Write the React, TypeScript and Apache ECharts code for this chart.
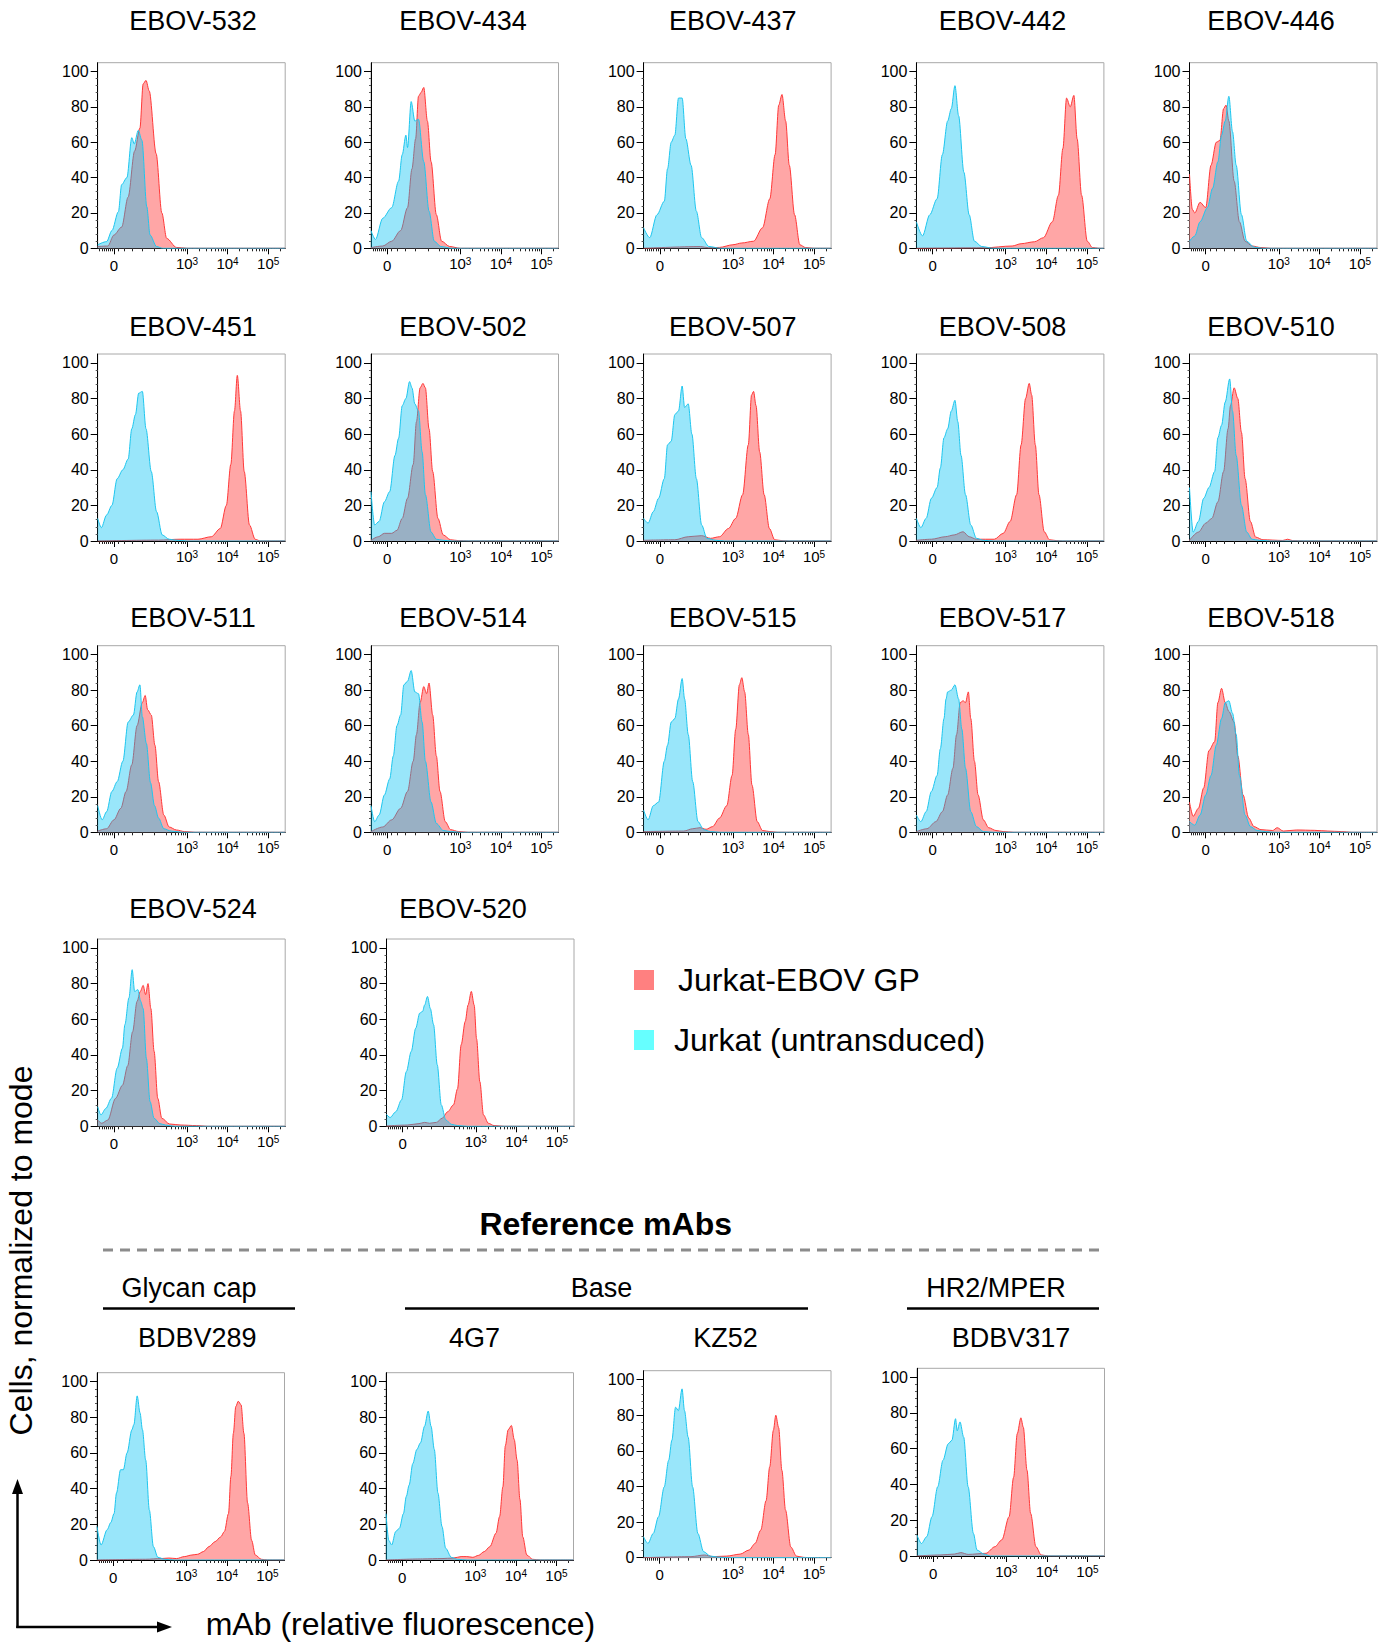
import React, { useEffect, useRef } from 'react';
import * as echarts from 'echarts';

const FONT = '"Liberation Sans", Arial, Helvetica, sans-serif';

const RED_LINE = '#ff3838';
const RED_FILL = '#ffa6a6';
const BLUE_LINE = '#1ec6ee';
// translucent overlay, so overlapping regions turn blue-grey as in the cytometry overlay
const BLUE_FILL = 'rgba(0,192,242,0.4)';

// x is in display units of the biexponential axis: 10^3 -> 3, 10^4 -> 4, 10^5 -> 5, "0" -> 1.2
const X_MIN = 0.8;
const X_MAX = 5.42;
const Y_MAX = 105;
const xMajorTicks = [1.2, 3, 4, 5];
const xMinorTicks = [0.85, 0.9, 0.95, 1.0, 1.05, 1.1, 1.15, 1.3, 1.45, 1.65, 1.9, 2.2, 2.48, 2.6, 2.7, 2.78, 2.85, 2.9, 2.95,
  3.3, 3.48, 3.6, 3.7, 3.78, 3.85, 3.9, 3.95, 4.3, 4.48, 4.6, 4.7, 4.78, 4.85, 4.9, 4.95, 5.3];
const yMajorTicks = [0, 20, 40, 60, 80, 100];
const yMinorTicks = [4, 8, 12, 16, 24, 28, 32, 36, 44, 48, 52, 56, 64, 68, 72, 76, 84, 88, 92, 96];

// ---- histogram data: [x (display units), % of mode] ----
const r532 = [[0.8,1],[1.05,1.3],[1.2,7.5],[1.39,12],[1.55,29],[1.71,55],[1.84,68],[1.92,93],[1.99,95],[2.07,89],[2.24,53.5],[2.38,20],[2.5,5.6],[2.74,0.5],[3.0,0],[5.42,0]];
const b532 = [[0.8,2],[1.02,3.8],[1.15,10],[1.31,20.7],[1.39,36],[1.52,40],[1.64,62.6],[1.70,59],[1.80,66.7],[1.89,61],[2.01,23.5],[2.09,7.5],[2.25,1],[2.4,0],[5.42,0]];
const r434 = [[0.8,0.4],[1.09,1.3],[1.31,4],[1.53,10],[1.70,23],[1.81,45],[1.90,62],[1.97,86],[2.03,88],[2.10,91],[2.19,72],[2.28,49],[2.41,19],[2.54,4],[2.74,1],[3.0,0],[5.42,0]];
const b434 = [[0.8,10],[0.91,5],[1.09,17],[1.31,23],[1.48,38],[1.57,53],[1.66,64],[1.70,57],[1.79,83],[1.88,72],[1.97,73],[2.10,49],[2.23,21],[2.36,4],[2.52,1],[2.8,0],[5.42,0]];
const r437 = [[0.8,0],[2.2,1],[2.4,0.3],[2.67,0.5],[3.0,2],[3.22,3],[3.51,4],[3.73,11.6],[3.91,28],[4.04,53],[4.13,81],[4.21,87],[4.30,72],[4.39,47],[4.52,19],[4.65,2],[4.79,0.4],[5.0,0],[5.42,0]];
const b437 = [[0.8,11.6],[0.95,6],[1.13,19],[1.31,26.6],[1.39,45],[1.48,60],[1.57,64],[1.66,85],[1.75,85],[1.84,62],[1.97,47],[2.10,21],[2.23,6],[2.41,1],[2.7,0],[5.42,0]];
const r442 = [[0.8,0],[2.5,0.3],[3.16,1.3],[3.38,2.6],[3.71,3.7],[3.93,6],[4.15,15],[4.30,30],[4.41,56.5],[4.50,85],[4.59,80],[4.68,86.5],[4.76,62],[4.87,30],[5.01,4],[5.14,0.4],[5.3,0],[5.42,0]];
const b442 = [[0.8,15],[0.95,7],[1.13,19],[1.31,28],[1.44,53],[1.57,72],[1.66,79],[1.75,92],[1.84,75],[1.97,43],[2.10,19],[2.23,4],[2.41,1],[2.7,0],[5.42,0]];
const r446 = [[0.8,42],[0.87,22],[0.93,20],[1.06,26],[1.20,23],[1.33,47],[1.46,60],[1.55,61],[1.64,79],[1.70,81],[1.77,72],[1.90,38],[2.03,15],[2.17,4],[2.34,1.3],[2.56,0.4],[2.8,0],[5.42,0]];
const b446 = [[0.8,4],[0.93,7],[1.06,15],[1.24,23],[1.37,34],[1.50,49],[1.59,64],[1.68,72],[1.77,86],[1.86,66],[1.95,47],[2.08,19],[2.21,4],[2.39,0.7],[2.6,0],[5.42,0]];

const r451 = [[0.8,0],[2.3,0.5],[2.83,1],[3.27,1],[3.60,2.4],[3.82,7],[3.97,20],[4.08,43],[4.17,73],[4.24,93],[4.32,73],[4.41,39],[4.54,9],[4.68,1],[4.81,0],[5.42,0]];
const b451 = [[0.8,12.7],[0.89,7.5],[1.02,14.6],[1.15,20],[1.28,35],[1.42,40],[1.55,46],[1.64,63],[1.73,71],[1.81,83],[1.90,84],[1.99,63],[2.12,39],[2.25,16.5],[2.39,3.4],[2.56,1],[2.72,0.5],[3.0,0],[5.42,0]];
const r502 = [[0.8,0.4],[0.98,2.4],[1.13,4.3],[1.31,4.3],[1.44,6],[1.57,12.7],[1.70,24],[1.84,43],[1.92,67],[2.01,86],[2.08,88.5],[2.14,86],[2.23,63],[2.32,39],[2.45,12.7],[2.58,3.4],[2.76,0.7],[2.96,0.2],[3.2,0],[5.42,0]];
const b502 = [[0.8,27.7],[0.89,9],[1.0,11],[1.13,22],[1.26,27.7],[1.39,48],[1.48,57.7],[1.57,76],[1.66,80],[1.75,89.5],[1.81,86],[1.88,77],[1.97,73],[2.06,50],[2.14,26],[2.28,5],[2.41,1],[2.58,0.4],[2.8,0],[5.42,0]];
const r507 = [[0.8,0.4],[1.57,0.7],[1.90,2.4],[2.23,3],[2.45,1.5],[2.67,2.4],[2.89,7],[3.07,12.7],[3.24,26],[3.38,54],[3.46,82],[3.51,84],[3.57,76],[3.66,50],[3.77,26],[3.90,7],[4.03,0.7],[4.21,0.2],[4.4,0],[5.42,0]];
const b507 = [[0.8,12.7],[0.91,10],[1.04,16.5],[1.17,24],[1.31,35],[1.39,54],[1.48,56],[1.57,71],[1.66,73],[1.75,87],[1.81,75],[1.90,77],[1.99,60],[2.10,35],[2.23,9],[2.36,1.5],[2.58,0.4],[2.8,0],[5.42,0]];
const r508 = [[0.8,0.4],[1.17,1],[1.51,2.4],[1.73,3.4],[1.95,5.2],[2.10,2.4],[2.28,1],[2.72,1],[2.94,4.3],[3.11,11],[3.27,26],[3.38,54],[3.49,80],[3.58,88.5],[3.64,82],[3.73,54],[3.82,26],[3.95,5.2],[4.08,0.7],[4.26,0.2],[4.4,0],[5.42,0]];
const b508 = [[0.8,12.7],[0.91,7.5],[1.04,12.7],[1.17,24],[1.31,30],[1.39,41],[1.48,58],[1.57,63],[1.66,73],[1.75,79],[1.82,67],[1.90,48],[2.01,26],[2.14,9],[2.28,1.5],[2.45,0.4],[2.7,0],[5.42,0]];
const r510 = [[0.8,0.4],[1.02,5],[1.20,10],[1.35,12.7],[1.50,22],[1.64,39],[1.75,63],[1.81,76],[1.90,86],[1.99,80],[2.08,61],[2.17,35],[2.30,11],[2.43,2.2],[2.61,0.7],[3.1,0.3],[3.22,1],[3.34,0.2],[3.6,0],[5.42,0]];
const b510 = [[0.8,30],[0.89,5],[1.02,11],[1.15,24],[1.28,30],[1.42,39],[1.50,58],[1.59,65],[1.68,78],[1.79,91],[1.86,73],[1.95,48],[2.08,20],[2.21,5],[2.34,1],[2.52,0.4],[2.8,0],[5.42,0]];

const r511 = [[0.8,0.7],[1.02,2],[1.20,7],[1.37,13.5],[1.50,23],[1.64,38],[1.77,60],[1.90,73],[1.97,77],[2.03,69],[2.12,66],[2.21,49],[2.30,28.5],[2.43,9.7],[2.56,3],[2.74,1.3],[2.94,0.4],[3.2,0],[5.42,0]];
const b511 = [[0.8,15],[0.91,7],[1.02,11.6],[1.15,23],[1.28,28.5],[1.42,40],[1.55,62],[1.68,66],[1.77,79],[1.84,83],[1.90,65],[2.0,50],[2.1,28],[2.2,15],[2.30,8],[2.43,2],[2.61,0.7],[2.9,0],[5.42,0]];
const r514 = [[0.8,0.4],[1.09,3],[1.31,7],[1.53,13.5],[1.70,23],[1.84,40],[1.92,55],[2.01,73],[2.10,82],[2.17,78],[2.23,84],[2.32,66],[2.41,43],[2.50,23],[2.63,6],[2.76,1.5],[2.96,0.4],[3.2,0],[5.42,0]];
const b514 = [[0.8,15],[0.89,6],[1.0,9.7],[1.13,21],[1.26,30],[1.35,43],[1.44,60],[1.53,66],[1.61,83],[1.70,85],[1.79,91],[1.88,79],[1.97,78],[2.06,62],[2.14,40],[2.28,17],[2.41,5],[2.58,1],[2.76,0.4],[3.0,0],[5.42,0]];
const r515 = [[0.8,0.4],[1.79,0.7],[2.01,2],[2.19,2.6],[2.34,1.7],[2.50,3.2],[2.67,8],[2.85,15],[2.98,32],[3.07,58],[3.16,83],[3.22,87],[3.29,79],[3.38,55],[3.47,26.6],[3.60,6],[3.73,1],[3.91,0.4],[4.1,0],[5.42,0]];
const b515 = [[0.8,12.5],[0.91,7],[1.04,15],[1.17,17],[1.31,40],[1.39,49],[1.48,62],[1.57,64],[1.66,75],[1.75,86.5],[1.81,75],[1.90,55],[2.01,28.5],[2.14,6],[2.28,1.5],[2.45,0.4],[2.7,0],[5.42,0]];
const r517 = [[0.8,0.4],[1.06,2],[1.28,6],[1.44,11.6],[1.57,21],[1.70,36],[1.79,55],[1.88,73],[1.95,74],[2.01,73],[2.08,79],[2.14,64],[2.23,40],[2.32,21],[2.45,7],[2.58,2.6],[2.76,1],[2.94,0.4],[3.2,0],[5.42,0]];
const b517 = [[0.8,9.7],[0.91,6],[1.04,11.6],[1.17,23],[1.31,32],[1.39,47],[1.48,64],[1.53,75],[1.57,79],[1.66,80],[1.75,83],[1.84,75],[1.92,58],[2.01,36],[2.14,11.6],[2.28,3.2],[2.45,0.4],[2.7,0],[5.42,0]];
const r518 = [[0.8,17],[0.89,9],[1.02,13.5],[1.15,25],[1.28,46],[1.42,51],[1.50,73],[1.59,81],[1.68,73],[1.77,68],[1.90,62],[1.99,43],[2.12,21],[2.26,8],[2.39,3.2],[2.56,1.5],[2.85,1],[2.96,2.6],[3.11,0.7],[3.44,1.3],[3.88,1.1],[4.21,0.7],[4.54,0.4],[4.8,0],[5.42,0]];
const b518 = [[0.8,6],[0.93,4],[1.06,9.7],[1.20,21],[1.33,32],[1.46,49],[1.59,64],[1.68,73],[1.77,74],[1.86,67],[1.95,55],[2.03,32],[2.17,9.7],[2.30,3.2],[2.47,1],[2.67,0.4],[2.9,0],[5.42,0]];

const r524 = [[0.8,3.5],[0.90,1.7],[1.05,3.5],[1.24,15.7],[1.41,23],[1.54,34],[1.66,53],[1.77,70],[1.85,75.6],[1.92,79],[1.98,73.8],[2.04,80],[2.11,66],[2.19,42],[2.28,15.7],[2.38,4.5],[2.57,1.3],[2.85,0.7],[3.23,0.4],[3.5,0],[5.42,0]];
const b524 = [[0.8,11],[0.88,6.4],[1.0,10],[1.14,15.7],[1.28,32.6],[1.41,43.8],[1.47,57],[1.57,72],[1.65,87.8],[1.71,75.6],[1.79,76.6],[1.86,70],[1.92,66],[2.0,38],[2.09,13.9],[2.19,4.5],[2.33,1.5],[2.47,0.7],[2.7,0],[5.42,0]];
const r520 = [[0.8,0.2],[1.31,0.7],[1.60,1.5],[1.74,2.2],[1.86,1.7],[2.03,2.2],[2.17,4.5],[2.31,8.2],[2.45,12],[2.55,21],[2.64,45.7],[2.74,58.8],[2.81,68],[2.89,75.6],[2.96,68],[3.02,49],[3.10,25],[3.19,6.4],[3.31,1.7],[3.45,0.4],[3.7,0],[5.42,0]];
const b520 = [[0.8,6.7],[0.89,4.9],[1.03,8.2],[1.17,14.8],[1.29,30.7],[1.41,42],[1.52,55],[1.62,63.5],[1.69,64.4],[1.74,68],[1.81,72.8],[1.88,66],[1.96,57],[2.05,34.5],[2.15,12],[2.26,3.6],[2.40,1.1],[2.55,0.4],[2.8,0],[5.42,0]];

const rBDBV289 = [[0.8,0],[2.0,0.4],[2.38,0.8],[2.57,1.1],[2.76,0.8],[2.95,1.9],[3.14,2.8],[3.28,3.2],[3.42,4.7],[3.56,7.5],[3.71,10.3],[3.85,13],[3.94,16],[4.04,26],[4.10,47],[4.16,71],[4.22,86],[4.28,89],[4.35,87],[4.42,71],[4.51,32],[4.61,11],[4.70,2.8],[4.85,0.4],[5.0,0],[5.42,0]];
const bBDBV289 = [[0.8,18.8],[0.90,8.4],[1.05,17],[1.14,21],[1.22,26],[1.28,37.5],[1.38,50.6],[1.45,50.6],[1.54,60],[1.66,73],[1.71,76],[1.79,92],[1.86,82.5],[1.92,73],[2.0,56],[2.09,28],[2.19,7.5],[2.30,1.5],[2.47,0.4],[2.7,0],[5.42,0]];
const r4G7 = [[0.8,0],[1.70,0.6],[2.18,0.8],[2.46,1.1],[2.65,1.9],[2.79,1.9],[2.94,1.5],[3.08,2.6],[3.22,4.7],[3.36,7.5],[3.51,15],[3.60,24.4],[3.68,41],[3.74,64],[3.81,73],[3.89,75.4],[3.96,67.5],[4.03,56],[4.10,34],[4.17,13],[4.27,2.8],[4.41,0.4],[4.6,0],[5.42,0]];
const b4G7 = [[0.8,26],[0.87,11],[0.94,8.4],[1.04,16],[1.13,17.8],[1.23,26],[1.30,35.6],[1.37,42],[1.46,54],[1.56,62],[1.65,65.7],[1.75,75],[1.84,83.5],[1.91,75],[1.99,62],[2.08,37.5],[2.18,18.8],[2.27,6.6],[2.41,1.5],[2.56,0.4],[2.8,0],[5.42,0]];
const rKZ52 = [[0.8,0],[1.97,0.6],[2.30,1.5],[2.52,0.6],[2.85,0.9],[3.18,2],[3.40,4.3],[3.55,8],[3.69,15.5],[3.82,32],[3.91,51],[4.0,71.5],[4.06,80],[4.13,73],[4.21,49],[4.30,26.7],[4.43,6],[4.57,0.9],[4.74,0.2],[4.9,0],[5.42,0]];
const bKZ52 = [[0.8,11.8],[0.91,8],[1.04,13.6],[1.17,23],[1.31,39.7],[1.42,54.7],[1.50,66],[1.59,84.5],[1.66,82.6],[1.75,94.8],[1.81,82.6],[1.90,67.7],[2.01,39.7],[2.14,13.6],[2.28,3.4],[2.45,0.9],[2.63,0.4],[2.9,0],[5.42,0]];
const rBDBV317 = [[0.8,0],[1.39,0.6],[1.73,1.1],[1.88,1.9],[2.06,0.9],[2.50,1.5],[2.72,5.2],[2.89,9],[3.07,22],[3.18,44],[3.27,68.4],[3.36,77.3],[3.42,72],[3.51,48],[3.60,23.8],[3.73,5.2],[3.86,0.6],[4.04,0],[5.42,0]];
const bBDBV317 = [[0.8,11.7],[0.91,7],[1.04,10.8],[1.17,22],[1.31,38.7],[1.44,53.5],[1.57,62.8],[1.66,64.7],[1.75,76.8],[1.79,70],[1.86,75],[1.95,66.5],[2.06,38.7],[2.19,12.6],[2.28,3.3],[2.45,1.1],[2.61,0],[5.42,0]];

const panelNames = [
  'EBOV-532', 'EBOV-434', 'EBOV-437', 'EBOV-442', 'EBOV-446',
  'EBOV-451', 'EBOV-502', 'EBOV-507', 'EBOV-508', 'EBOV-510',
  'EBOV-511', 'EBOV-514', 'EBOV-515', 'EBOV-517', 'EBOV-518',
  'EBOV-524', 'EBOV-520',
  'BDBV289', '4G7', 'KZ52', 'BDBV317',
];
const panelRed = [r532, r434, r437, r442, r446, r451, r502, r507, r508, r510, r511, r514, r515, r517, r518, r524, r520, rBDBV289, r4G7, rKZ52, rBDBV317];
const panelBlue = [b532, b434, b437, b442, b446, b451, b502, b507, b508, b510, b511, b514, b515, b517, b518, b524, b520, bBDBV289, b4G7, bKZ52, bBDBV317];

const groupLabels = ['Glycan cap', 'Base', 'HR2/MPER'];
const legendLabels = ['Jurkat-EBOV GP', 'Jurkat (untransduced)'];

// ---- layout (pixels) ----
const COLS = [97.7, 371, 643.6, 916.4, 1189.5];
const PW = 187.5;
const panelLeft = [...COLS, ...COLS, ...COLS, 97.7, 386.5, 97, 386, 643.5, 917];
const panelTop = [62.7, 62.7, 62.7, 62.7, 62.7, 354, 354, 354, 354, 354, 645.7, 645.7, 645.7, 645.7, 645.7, 939, 939, 1372.7, 1372.7, 1370.7, 1368.3];
const panelBottom = [248.3, 248.3, 248.3, 248.3, 248.3, 541, 541, 541, 541, 541, 832.3, 832.3, 832.3, 832.3, 832.3, 1126.3, 1126.3, 1560, 1560, 1557.7, 1556];
const TX = [193, 463, 732.7, 1002.5, 1271];
const titleX = [...TX, ...TX, ...TX, 193, 463, 197.3, 474.5, 725.5, 1011];
const titleY = [21, 21, 21, 21, 21, 327, 327, 327, 327, 327, 618, 618, 618, 618, 618, 908.5, 908.5, 1338, 1338, 1338, 1338];

function buildOption() {
  const grid: any[] = [];
  const xAxis: any[] = [];
  const yAxis: any[] = [];
  const series: any[] = [];
  const graphic: any[] = [];

  panelNames.forEach((name, i) => {
    grid.push({
      left: panelLeft[i], top: panelTop[i], width: PW, height: panelBottom[i] - panelTop[i],
      show: true, borderColor: '#a8a8a8', borderWidth: 1, backgroundColor: 'transparent',
      containLabel: false, outerBoundsMode: 'none',
    });
    xAxis.push({
      gridIndex: i, type: 'value', min: X_MIN, max: X_MAX, position: 'bottom',
      axisLine: { show: true, onZero: false, lineStyle: { color: '#000', width: 1 } },
      axisTick: { show: true, customValues: xMajorTicks, length: 6, lineStyle: { color: '#000', width: 1 } },
      axisLabel: {
        show: true, customValues: xMajorTicks, margin: 8, color: '#000',
        formatter: (v: number) => (Math.abs(v - 1.2) < 1e-6 ? '{z|0}' : '{b|10}{s|' + Math.round(v) + '}'),
        rich: {
          z: { fontSize: 15, fontFamily: FONT, color: '#000', lineHeight: 15, padding: [3, 0, 0, 0] },
          b: { fontSize: 15, fontFamily: FONT, color: '#000', lineHeight: 15, verticalAlign: 'bottom' },
          s: { fontSize: 10, fontFamily: FONT, color: '#000', lineHeight: 10, verticalAlign: 'top', padding: [0, 0, 8, 0] },
        },
      },
      splitLine: { show: false },
    });
    xAxis.push({
      gridIndex: i, type: 'value', min: X_MIN, max: X_MAX, position: 'bottom',
      axisLine: { show: false, onZero: false },
      axisTick: { show: true, customValues: xMinorTicks, length: 3, lineStyle: { color: '#222', width: 1 } },
      axisLabel: { show: false },
      splitLine: { show: false },
    });
    yAxis.push({
      gridIndex: i, type: 'value', min: 0, max: Y_MAX, position: 'left',
      axisLine: { show: true, onZero: false, lineStyle: { color: '#000', width: 1 } },
      axisTick: { show: true, customValues: yMajorTicks, length: 7, lineStyle: { color: '#000', width: 1 } },
      axisLabel: { show: true, customValues: yMajorTicks, margin: 9, fontSize: 16, fontFamily: FONT, color: '#000' },
      splitLine: { show: false },
    });
    yAxis.push({
      gridIndex: i, type: 'value', min: 0, max: Y_MAX, position: 'left',
      axisLine: { show: false, onZero: false },
      axisTick: { show: true, customValues: yMinorTicks, length: 2, lineStyle: { color: '#555', width: 1 } },
      axisLabel: { show: false },
      splitLine: { show: false },
    });
    series.push({
      name: legendLabels[0], type: 'line', xAxisIndex: 2 * i, yAxisIndex: 2 * i, z: 2,
      data: panelRed[i], smooth: 0.3, smoothMonotone: 'x', symbol: 'none', silent: true,
      lineStyle: { color: RED_LINE, width: 1 }, areaStyle: { color: RED_FILL, opacity: 1 },
    });
    series.push({
      name: legendLabels[1], type: 'line', xAxisIndex: 2 * i, yAxisIndex: 2 * i, z: 3,
      data: panelBlue[i], smooth: 0.3, smoothMonotone: 'x', symbol: 'none', silent: true,
      lineStyle: { color: BLUE_LINE, width: 1 }, areaStyle: { color: BLUE_FILL, opacity: 1 },
    });
    graphic.push({
      type: 'text', x: titleX[i], y: titleY[i],
      style: { text: name, fontSize: 27, fontFamily: FONT, fill: '#000', textAlign: 'center', textVerticalAlign: 'middle' },
    });
  });

  const txt = (text: string, x: number, y: number, size: number, extra: any = {}) => ({
    type: 'text', x, y, ...extra,
    style: { text, fontSize: size, fontFamily: FONT, fill: '#000', textAlign: 'center', textVerticalAlign: 'middle', ...(extra.style || {}) },
  });

  graphic.push(txt('Reference mAbs', 605.7, 1223.5, 32, { style: { fontWeight: 'bold' } }));
  graphic.push({ type: 'line', shape: { x1: 103, y1: 1250, x2: 1100, y2: 1250 }, style: { stroke: '#8c8c8c', lineWidth: 3, lineDash: [10, 7] } });
  graphic.push(txt(groupLabels[0], 189, 1287.5, 27));
  graphic.push(txt(groupLabels[1], 601.5, 1287.5, 27));
  graphic.push(txt(groupLabels[2], 996, 1287.5, 27));
  graphic.push({ type: 'line', shape: { x1: 103, y1: 1308.5, x2: 295, y2: 1308.5 }, style: { stroke: '#000', lineWidth: 2.5 } });
  graphic.push({ type: 'line', shape: { x1: 405, y1: 1308.5, x2: 808, y2: 1308.5 }, style: { stroke: '#000', lineWidth: 2.5 } });
  graphic.push({ type: 'line', shape: { x1: 907, y1: 1308.5, x2: 1099, y2: 1308.5 }, style: { stroke: '#000', lineWidth: 2.5 } });

  // legend
  graphic.push({ type: 'rect', shape: { x: 634, y: 970, width: 20, height: 20 }, style: { fill: '#ff8080' } });
  graphic.push({ type: 'rect', shape: { x: 634, y: 1030, width: 20, height: 20 }, style: { fill: '#66ffff' } });
  graphic.push({ type: 'text', x: 678, y: 980, style: { text: legendLabels[0], fontSize: 32, fontFamily: FONT, fill: '#000', textAlign: 'left', textVerticalAlign: 'middle' } });
  graphic.push({ type: 'text', x: 674, y: 1040, style: { text: legendLabels[1], fontSize: 32, fontFamily: FONT, fill: '#000', textAlign: 'left', textVerticalAlign: 'middle' } });

  // big axis titles and arrows
  graphic.push(txt('Cells, normalized to mode', 21, 1250.5, 32, { rotation: Math.PI / 2 }));
  graphic.push({ type: 'text', x: 205.7, y: 1624, style: { text: 'mAb (relative fluorescence)', fontSize: 32, fontFamily: FONT, fill: '#000', textAlign: 'left', textVerticalAlign: 'middle' } });
  graphic.push({ type: 'line', shape: { x1: 17.5, y1: 1628, x2: 17.5, y2: 1490 }, style: { stroke: '#000', lineWidth: 2.5 } });
  graphic.push({ type: 'polygon', shape: { points: [[17.5, 1479], [12, 1494], [23, 1494]] }, style: { fill: '#000' } });
  graphic.push({ type: 'line', shape: { x1: 16.3, y1: 1627, x2: 160, y2: 1627 }, style: { stroke: '#000', lineWidth: 2.5 } });
  graphic.push({ type: 'polygon', shape: { points: [[172, 1627], [157, 1621.5], [157, 1632.5]] }, style: { fill: '#000' } });

  return {
    animation: false,
    backgroundColor: '#ffffff',
    textStyle: { fontFamily: FONT },
    grid, xAxis, yAxis, series, graphic,
  };
}

export default function App() {
  const ref = useRef<HTMLDivElement>(null);
  useEffect(() => {
    document.body.style.margin = '0';
    const node = ref.current;
    if (!node) return;
    const chart = echarts.init(node, undefined, { renderer: 'svg', width: 1393, height: 1646 });
    chart.setOption(buildOption() as any);
    return () => chart.dispose();
  }, []);
  return <div ref={ref} style={{ width: 1393, height: 1646 }} />;
}
